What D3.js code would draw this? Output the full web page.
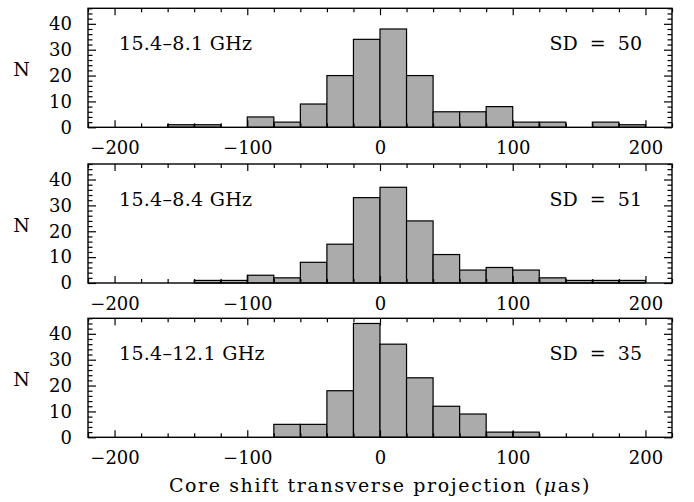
<!DOCTYPE html>
<html>
<head>
<meta charset="utf-8">
<script src="https://cdn.jsdelivr.net/npm/d3@7"></script>
<style>
  html, body { margin: 0; padding: 0; background: #fff; }
  svg text { font-family: "DejaVu Serif", serif; fill: #000; }
</style>
</head>
<body>
<svg id="chart" width="694" height="502"></svg>
<script>
// ---- data ----
const binStarts = [-200,-180,-160,-140,-120,-100,-80,-60,-40,-20,0,20,40,60,80,100,120,140,160,180];
const binWidth = 20;
const counts8_1  = [0,0,1,1,0,4,2,9,20,34,38,20,6,6,8,2,2,0,2,1];
const counts8_4  = [0,0,0,1,1,3,2,8,15,33,37,24,11,5,6,5,2,1,1,1];
const counts12_1 = [0,0,0,0,0,0,5,5,18,44,36,23,12,9,2,2,0,0,0,0];
const panelLabels = ["15.4\u20138.1 GHz", "15.4\u20138.4 GHz", "15.4\u201312.1 GHz"];
const sdLabels = ["SD = 50", "SD = 51", "SD = 35"];
const xMajorTicks = [-200,-100,0,100,200];
const yMajorTicks = [0,10,20,30,40];
const xTitle = "Core shift transverse projection (";
const yTitle = "N";

const panels = [
  {counts: counts8_1, label: panelLabels[0], sd: sdLabels[0], top: 8.3},
  {counts: counts8_4, label: panelLabels[1], sd: sdLabels[1], top: 164},
  {counts: counts12_1, label: panelLabels[2], sd: sdLabels[2], top: 318.3}
];

const svg = d3.select("#chart");
const left = 88, right = 672, ph = 119;
const x = d3.scaleLinear().domain([-220, 220]).range([left, right]);
const xMinor = d3.range(-220, 221, 20).filter(v => !xMajorTicks.includes(v));
const yMinor = d3.range(0, 47, 2).filter(v => v % 10 !== 0);

panels.forEach(p => {
  const bottom = p.top + ph;
  const y = d3.scaleLinear().domain([0, 46]).range([bottom, p.top]);
  const g = svg.append("g");

  // bars
  g.selectAll("rect.bar")
    .data(binStarts.map((b, i) => ({b, c: p.counts[i]})).filter(d => d.c > 0))
    .join("rect")
    .attr("class", "bar")
    .attr("x", d => x(d.b))
    .attr("width", d => x(d.b + binWidth) - x(d.b))
    .attr("y", d => y(d.c))
    .attr("height", d => y(0) - y(d.c))
    .attr("fill", "#ababab")
    .attr("stroke", "#000")
    .attr("stroke-width", 1.2);

  const styleAxis = sel => {
    sel.select(".domain").remove();
    sel.selectAll("line").attr("stroke", "#000").attr("stroke-width", 1.2);
  };

  // x axes bottom (labels) and top
  g.append("g").attr("transform", `translate(0,${bottom})`)
    .call(d3.axisBottom(x).tickValues(xMajorTicks).tickSize(-7).tickPadding(14))
    .call(styleAxis)
    .call(s => s.selectAll("text").attr("font-size", 18).attr("font-family", "DejaVu Serif"));
  g.append("g").attr("transform", `translate(0,${bottom})`)
    .call(d3.axisBottom(x).tickValues(xMinor).tickSize(-4).tickFormat(""))
    .call(styleAxis);
  g.append("g").attr("transform", `translate(0,${p.top})`)
    .call(d3.axisTop(x).tickValues(xMajorTicks).tickSize(-7).tickFormat(""))
    .call(styleAxis);
  g.append("g").attr("transform", `translate(0,${p.top})`)
    .call(d3.axisTop(x).tickValues(xMinor).tickSize(-4).tickFormat(""))
    .call(styleAxis);

  // y axes
  g.append("g").attr("transform", `translate(${left},0)`)
    .call(d3.axisLeft(y).tickValues(yMajorTicks).tickSize(-8).tickPadding(16).tickFormat(d3.format("d")))
    .call(styleAxis)
    .call(s => s.selectAll("text").attr("font-size", 18).attr("font-family", "DejaVu Serif"));
  g.append("g").attr("transform", `translate(${left},0)`)
    .call(d3.axisLeft(y).tickValues(yMinor).tickSize(-4.5).tickFormat(""))
    .call(styleAxis);
  g.append("g").attr("transform", `translate(${right},0)`)
    .call(d3.axisRight(y).tickValues(yMajorTicks).tickSize(-8).tickFormat(""))
    .call(styleAxis);
  g.append("g").attr("transform", `translate(${right},0)`)
    .call(d3.axisRight(y).tickValues(yMinor).tickSize(-4.5).tickFormat(""))
    .call(styleAxis);

  // frame
  g.append("rect")
    .attr("x", left).attr("y", p.top)
    .attr("width", right - left).attr("height", ph)
    .attr("fill", "none").attr("stroke", "#000").attr("stroke-width", 1.4);

  // labels
  g.append("text").attr("x", 119).attr("y", p.top + 42)
    .attr("font-size", 19).attr("letter-spacing", 0.3).text(p.label);
  g.append("text").attr("x", 642).attr("y", p.top + 42)
    .attr("font-size", 19).attr("text-anchor", "end")
    .attr("xml:space", "preserve").style("white-space", "pre")
    .text(p.sd.replace(" = ", "  =  "));

  g.append("text").attr("x", 21.5).attr("y", (p.top + bottom) / 2 + 8)
    .attr("font-size", 19).attr("text-anchor", "middle").text(yTitle);
});

const t = svg.append("text").attr("x", 380).attr("y", 492)
  .attr("font-size", 19).attr("letter-spacing", 1.6).attr("text-anchor", "middle");
t.append("tspan").text(xTitle);
t.append("tspan").attr("font-style", "italic").text("\u03bc");
t.append("tspan").text("as)");
</script>
</body>
</html>
